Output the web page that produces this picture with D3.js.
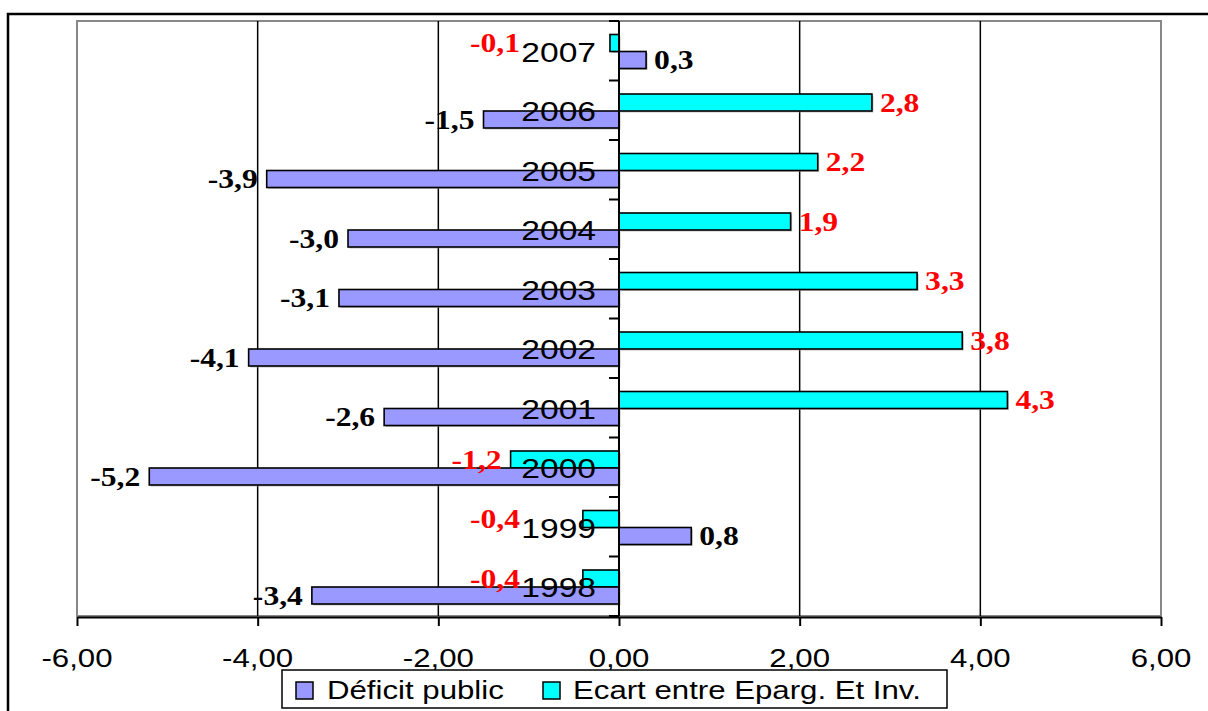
<!DOCTYPE html>
<html>
<head>
<meta charset="utf-8">
<script src="https://cdn.jsdelivr.net/npm/d3@7"></script>
<style>
  body { margin: 0; background: #fff; }
  svg { display: block; }
</style>
</head>
<body>
<svg id="chart" width="1208" height="711"></svg>
<script>
// data
const years = ["2007", "2006", "2005", "2004", "2003", "2002", "2001", "2000", "1999", "1998"];
const deficitPublic = [0.3, -1.5, -3.9, -3.0, -3.1, -4.1, -2.6, -5.2, 0.8, -3.4];
const ecartEpargInv = [-0.1, 2.8, 2.2, 1.9, 3.3, 3.8, 4.3, -1.2, -0.4, -0.4];
const seriesNames = ["Déficit public", "Ecart entre Eparg. Et Inv."];
const xTicks = [-6, -4, -2, 0, 2, 4, 6];

const svg = d3.select("#chart");
const plot = { left: 77, right: 1161, top: 21, bottom: 616 };
const stretch = 1.2; // the original picture is stretched sideways

const x = d3.scaleLinear().domain([-6, 6]).range([plot.left, plot.right]);
const y = d3.scaleBand().domain(years).range([plot.top, plot.bottom]);
const inner = d3.scaleBand().domain(["ecart", "deficit"])
	.range([13.5, y.bandwidth() - 12]);

const fmt = v => d3.format(".1f")(v).replace(".", ",").replace("−", "-");
const fmtTick = v => d3.format(".2f")(v).replace(".", ",").replace("−", "-");

// stretched text helper
function stext(g, tx, ty, str, opts) {
	return g.append("text")
		.attr("transform", `translate(${tx},${ty}) scale(${opts.sx || stretch},1)`)
		.attr("text-anchor", opts.anchor || "start")
		.attr("font-family", opts.family || "'Liberation Sans', Arial, sans-serif")
		.attr("font-size", opts.size)
		.attr("font-weight", opts.weight || "normal")
		.attr("fill", opts.fill || "#000")
		.text(str);
}

// outer frame
svg.append("rect")
	.attr("x", 8).attr("y", 14).attr("width", 1240).attr("height", 740)
	.attr("fill", "none").attr("stroke", "#000").attr("stroke-width", 2.5);

// plot area border
svg.append("rect")
	.attr("x", plot.left).attr("y", plot.top)
	.attr("width", plot.right - plot.left).attr("height", plot.bottom - plot.top)
	.attr("fill", "#fff").attr("stroke", "#888").attr("stroke-width", 2);

// gridlines
svg.append("g").selectAll("line")
	.data(xTicks.filter(t => t !== 0 && Math.abs(t) !== 6))
	.enter().append("line")
	.attr("x1", d => x(d)).attr("x2", d => x(d))
	.attr("y1", plot.top).attr("y2", plot.bottom)
	.attr("stroke", "#000").attr("stroke-width", 1.5);

// bottom value axis
const xAxis = svg.append("g")
	.attr("transform", `translate(0,${plot.bottom + 1})`)
	.call(d3.axisBottom(x).tickValues(xTicks).tickSize(9).tickSizeOuter(0).tickFormat(() => ""));
xAxis.select(".domain").attr("stroke", "#000").attr("stroke-width", 2);
xAxis.selectAll(".tick line").attr("stroke", "#000").attr("stroke-width", 2);
xTicks.forEach(t => {
	stext(svg, x(t), 667, fmtTick(t), { size: 26, anchor: "middle" });
});

// bars
const rows = years.map((yr, i) => ({ year: yr, deficit: deficitPublic[i], ecart: ecartEpargInv[i] }));
const colors = { deficit: "#9999ff", ecart: "#00ffff" };

["ecart", "deficit"].forEach(key => {
	// soft shadow
	svg.append("g").selectAll("rect")
		.data(rows).enter().append("rect")
		.attr("x", d => Math.min(x(0), x(d[key])) + 1.5)
		.attr("y", d => y(d.year) + inner(key) + 1.5)
		.attr("width", d => Math.abs(x(d[key]) - x(0)))
		.attr("height", inner.bandwidth())
		.attr("fill", "#999").attr("opacity", 0.6);
	svg.append("g").selectAll("rect")
		.data(rows).enter().append("rect")
		.attr("x", d => Math.min(x(0), x(d[key])))
		.attr("y", d => y(d.year) + inner(key))
		.attr("width", d => Math.abs(x(d[key]) - x(0)))
		.attr("height", inner.bandwidth())
		.attr("fill", colors[key])
		.attr("stroke", "#000").attr("stroke-width", 1.6);
});

// category axis at zero
const yAxis = svg.append("g")
	.attr("transform", `translate(${x(0)},0)`);
yAxis.append("line")
	.attr("x1", 0).attr("x2", 0).attr("y1", plot.top).attr("y2", plot.bottom)
	.attr("stroke", "#000").attr("stroke-width", 2);
yAxis.selectAll(".ctick")
	.data(years.map(yr => y(yr)).concat([plot.bottom]))
	.enter().append("line")
	.attr("x1", -10).attr("x2", 0)
	.attr("y1", d => d).attr("y2", d => d)
	.attr("stroke", "#000").attr("stroke-width", 2);

// data labels
rows.forEach(d => {
	["deficit", "ecart"].forEach(key => {
		const v = d[key];
		const cy = y(d.year) + inner(key) + inner.bandwidth() / 2 + 9;
		const fill = key === "ecart" ? "#ff0000" : "#000";
		const common = { size: 27, weight: "bold", family: "'Liberation Serif', 'Times New Roman', serif", fill: fill, sx: 1.17 };
		if (v >= 0) {
			stext(svg, x(v) + 8, cy, fmt(v), Object.assign({ anchor: "start" }, common));
		} else {
			const xe = Math.min(x(v) - 9, 520);
			stext(svg, xe, cy, fmt(v), Object.assign({ anchor: "end" }, common));
		}
	});
});

// category labels, drawn over the bars
years.forEach(yr => {
	stext(svg, 596, y(yr) + y.bandwidth() / 2 + 11, yr, { size: 28, anchor: "end" });
});

// legend
const lg = svg.append("g");
lg.append("rect")
	.attr("x", 282).attr("y", 670).attr("width", 665).attr("height", 38)
	.attr("fill", "#fff").attr("stroke", "#000").attr("stroke-width", 1.5);
const legendItems = [
	{ name: seriesNames[0], color: colors.deficit, sx: 296, tx: 327 },
	{ name: seriesNames[1], color: colors.ecart, sx: 543, tx: 573 }
];
legendItems.forEach(it => {
	lg.append("rect")
		.attr("x", it.sx).attr("y", 682).attr("width", 17).attr("height", 17)
		.attr("fill", it.color).attr("stroke", "#000").attr("stroke-width", 1.5);
	stext(lg, it.tx, 699, it.name, { size: 26, anchor: "start" });
});
</script>
</body>
</html>
